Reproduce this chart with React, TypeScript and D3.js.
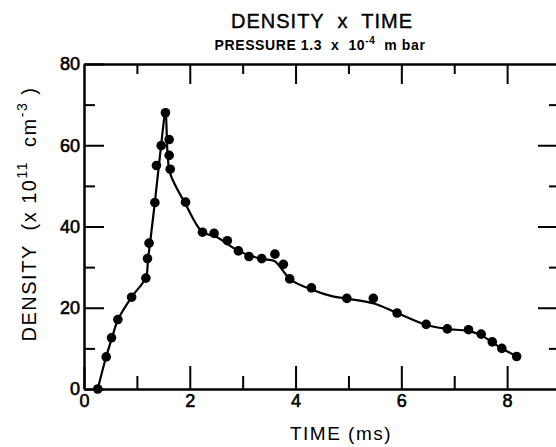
import React, { useEffect, useRef } from "react";
import * as d3 from "d3";

// measured points (ms, 10^11 cm^-3)
const timeMs = [
  0.26, 0.42, 0.52, 0.64, 0.9, 1.17, 1.2, 1.23, 1.34, 1.37, 1.46, 1.54, 1.61, 1.61,
  1.63, 1.92, 2.24, 2.46, 2.71, 2.92, 3.12, 3.36, 3.61, 3.77, 3.89, 4.3, 4.97, 5.47,
  5.92, 6.47, 6.87, 7.27, 7.51, 7.72, 7.9, 8.18,
];
const density = [
  0, 7.9, 12.6, 17.1, 22.6, 27.3, 32.1, 35.9, 45.9, 55.0, 59.9, 68.0, 61.4, 57.5,
  54.1, 46.0, 38.6, 38.3, 36.5, 34.0, 32.6, 32.1, 33.2, 30.7, 27.1, 24.9, 22.3, 22.3,
  18.7, 15.9, 14.8, 14.6, 13.5, 11.6, 10.0, 8.0,
];

// hand drawn curve through the points
const fitTime = [
  0.26, 0.42, 0.53, 0.64, 0.9, 1.17, 1.21, 1.25, 1.34, 1.45, 1.54, 1.58, 1.63, 1.92,
  2.24, 2.5, 2.92, 3.36, 3.6, 3.9, 4.3, 4.7, 5.0, 5.5, 5.92, 6.46, 6.85, 7.25, 7.5,
  7.72, 7.9, 8.18,
];
const fitDensity = [
  0, 8, 12.6, 17, 22.6, 27.5, 32, 36, 46, 59, 68, 58, 53, 45.5, 38.6, 37.5, 34, 32,
  31.5, 27, 24.5, 22.8, 22.2, 21, 18.7, 15.8, 14.8, 14.3, 13.3, 11.5, 10, 8,
];

const xMajor = [0, 2, 4, 6, 8];
const xMinor = [1, 3, 5, 7];
const yMajor = [0, 20, 40, 60, 80];
const yMinor = [10, 30, 50, 70];

const W = 556;
const H = 447;

export default function App() {
  const svgRef = useRef<SVGSVGElement>(null);

  useEffect(() => {
    const svg = d3.select(svgRef.current);
    svg.selectAll("*").remove();

    const x = d3.scaleLinear().domain([0, 9]).range([84, 560]);
    const y = d3.scaleLinear().domain([0, 80]).range([389, 64]);
    const font = "'Liberation Sans', Arial, sans-serif";

    const styleAxis = (g: any) => {
      g.select(".domain").attr("stroke", "#000").attr("stroke-width", 2);
      g.selectAll(".tick line").attr("stroke", "#000").attr("stroke-width", 2);
      g.selectAll(".tick text")
        .attr("font-family", font)
        .attr("font-size", 18)
        .attr("fill", "#000")
        .attr("stroke", "#000")
        .attr("stroke-width", 0.6);
    };

    // bottom
    svg.append("g").attr("transform", `translate(0,${y(0)})`)
      .call(d3.axisBottom(x).tickValues(xMajor).tickSize(-23).tickSizeOuter(0).tickPadding(5).tickFormat(d3.format("d")))
      .call(styleAxis);
    svg.append("g").attr("transform", `translate(0,${y(0)})`)
      .call(d3.axisBottom(x).tickValues(xMinor).tickSize(-13).tickSizeOuter(0).tickFormat(() => ""))
      .call(styleAxis);
    // top
    svg.append("g").attr("transform", `translate(0,${y(80)})`)
      .call(d3.axisTop(x).tickValues(xMajor.slice(1)).tickSize(-20).tickSizeOuter(0).tickFormat(() => ""))
      .call(styleAxis);
    svg.append("g").attr("transform", `translate(0,${y(80)})`)
      .call(d3.axisTop(x).tickValues(xMinor).tickSize(-10).tickSizeOuter(0).tickFormat(() => ""))
      .call(styleAxis);
    // left
    svg.append("g").attr("transform", `translate(${x(0)},0)`)
      .call(d3.axisLeft(y).tickValues(yMajor).tickSize(-20).tickSizeOuter(0).tickPadding(4).tickFormat(d3.format("d")))
      .call(styleAxis);
    svg.append("g").attr("transform", `translate(${x(0)},0)`)
      .call(d3.axisLeft(y).tickValues(yMinor).tickSize(-11).tickSizeOuter(0).tickFormat(() => ""))
      .call(styleAxis);
    // right
    svg.append("g").attr("transform", `translate(${x(9)},0)`)
      .call(d3.axisRight(y).tickValues(yMajor.slice(1, 4)).tickSize(-22).tickSizeOuter(0).tickFormat(() => ""))
      .call(styleAxis);
    svg.append("g").attr("transform", `translate(${x(9)},0)`)
      .call(d3.axisRight(y).tickValues(yMinor).tickSize(-11).tickSizeOuter(0).tickFormat(() => ""))
      .call(styleAxis);

    const line = d3.line<number>()
      .x((d, i) => x(fitTime[i]))
      .y((d) => y(d))
      .curve(d3.curveCatmullRom.alpha(0.5));

    svg.append("path")
      .datum(fitDensity)
      .attr("d", line)
      .attr("fill", "none")
      .attr("stroke", "#000")
      .attr("stroke-width", 2.2);

    svg.selectAll(".dot")
      .data(density)
      .join("circle")
      .attr("class", "dot")
      .attr("cx", (d, i) => x(timeMs[i]))
      .attr("cy", (d) => y(d))
      .attr("r", 4.8)
      .attr("fill", "#000");

    // titles
    svg.append("text")
      .attr("x", 322).attr("y", 28)
      .attr("text-anchor", "middle")
      .attr("font-family", font).attr("font-size", 20)
      .attr("letter-spacing", 1)
      .attr("stroke", "#000").attr("stroke-width", 0.4)
      .style("white-space", "pre")
      .text("DENSITY  x  TIME");

    const sub = svg.append("text")
      .attr("x", 320).attr("y", 50)
      .attr("text-anchor", "middle")
      .attr("font-family", font).attr("font-size", 14).attr("font-weight", "bold")
      .attr("letter-spacing", 0.6)
      .style("white-space", "pre");
    sub.append("tspan").text("PRESSURE 1.3  x  10");
    sub.append("tspan").attr("font-size", 10).attr("dy", -6).text("-4");
    sub.append("tspan").attr("dy", 6).text("  m bar");

    svg.append("text")
      .attr("x", 341).attr("y", 440)
      .attr("text-anchor", "middle")
      .attr("font-family", font).attr("font-size", 19)
      .attr("letter-spacing", 1.5)
      .style("white-space", "pre")
      .text("TIME (ms)");

    const yl = svg.append("text")
      .attr("transform", "translate(36,214) rotate(-90)")
      .attr("text-anchor", "middle")
      .attr("font-family", font).attr("font-size", 20)
      .attr("letter-spacing", 1.5)
      .attr("fill", "#000")
      .style("white-space", "pre");
    yl.append("tspan").text("DENSITY  (x 10");
    yl.append("tspan").attr("font-size", 14).attr("dy", -9).text("11");
    yl.append("tspan").attr("dy", 9).text("  cm");
    yl.append("tspan").attr("font-size", 14).attr("dy", -9).text("-3");
    yl.append("tspan").attr("dy", 9).text(" )");
  }, []);

  return (
    <div style={{ position: "absolute", left: 0, top: 0 }}>
      <svg ref={svgRef} width={W} height={H} style={{ display: "block", background: "#fff" }} />
    </div>
  );
}
